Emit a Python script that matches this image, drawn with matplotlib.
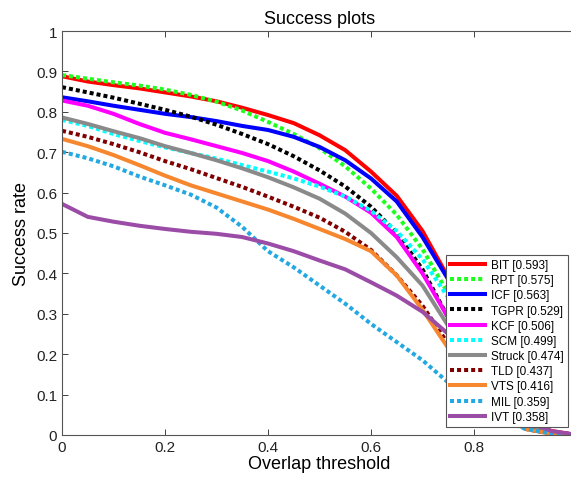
import matplotlib as mpl
import matplotlib.pyplot as plt
import numpy as np

# overlap thresholds 0:0.05:1
thresholds = np.linspace(0, 1, 21)

trackers = ["BIT", "RPT", "ICF", "TGPR", "KCF", "SCM", "Struck", "TLD", "VTS", "MIL", "IVT"]
auc = [0.593, 0.575, 0.563, 0.529, 0.506, 0.499, 0.474, 0.437, 0.416, 0.359, 0.358]

bit = [0.888, 0.875, 0.866, 0.858, 0.848, 0.838, 0.826, 0.81, 0.792, 0.772, 0.742,
       0.705, 0.652, 0.592, 0.505, 0.39, 0.25, 0.12, 0.04, 0.01, 0.0]
rpt = [0.891, 0.882, 0.873, 0.865, 0.855, 0.842, 0.825, 0.803, 0.775, 0.745, 0.71,
       0.665, 0.61, 0.545, 0.46, 0.35, 0.22, 0.1, 0.03, 0.006, 0.0]
icf = [0.836, 0.826, 0.815, 0.805, 0.795, 0.787, 0.777, 0.765, 0.755, 0.738, 0.713,
       0.68, 0.635, 0.578, 0.49, 0.385, 0.24, 0.11, 0.035, 0.008, 0.0]
tgpr = [0.861, 0.848, 0.835, 0.82, 0.805, 0.788, 0.768, 0.745, 0.72, 0.69, 0.655,
        0.615, 0.565, 0.5, 0.41, 0.29, 0.16, 0.07, 0.025, 0.005, 0.0]
kcf = [0.828, 0.815, 0.795, 0.77, 0.748, 0.732, 0.715, 0.698, 0.678, 0.652, 0.622,
       0.59, 0.55, 0.49, 0.4, 0.29, 0.17, 0.075, 0.02, 0.004, 0.0]
scm = [0.78, 0.765, 0.745, 0.728, 0.712, 0.698, 0.684, 0.668, 0.652, 0.635, 0.615,
       0.59, 0.555, 0.505, 0.435, 0.34, 0.21, 0.095, 0.03, 0.006, 0.0]
struck = [0.786, 0.77, 0.752, 0.735, 0.715, 0.698, 0.68, 0.66, 0.638, 0.613, 0.585,
          0.548, 0.5, 0.44, 0.37, 0.27, 0.16, 0.07, 0.02, 0.004, 0.0]
tld = [0.753, 0.738, 0.72, 0.7, 0.678, 0.658, 0.636, 0.614, 0.59, 0.565, 0.538,
       0.503, 0.458, 0.395, 0.32, 0.225, 0.13, 0.055, 0.015, 0.003, 0.0]
vts = [0.733, 0.715, 0.693, 0.668, 0.642, 0.618, 0.598, 0.578, 0.558, 0.535, 0.51,
       0.485, 0.455, 0.395, 0.31, 0.215, 0.12, 0.05, 0.015, 0.003, 0.0]
mil = [0.701, 0.685, 0.665, 0.64, 0.618, 0.595, 0.563, 0.515, 0.455, 0.415, 0.37,
       0.325, 0.275, 0.23, 0.185, 0.13, 0.08, 0.04, 0.015, 0.004, 0.0]
ivt = [0.572, 0.54, 0.528, 0.518, 0.51, 0.503, 0.498, 0.49, 0.474, 0.455, 0.432,
       0.41, 0.378, 0.345, 0.305, 0.25, 0.17, 0.09, 0.035, 0.01, 0.0]

curves = [bit, rpt, icf, tgpr, kcf, scm, struck, tld, vts, mil, ivt]

colors = ["#ff0000", "#1eff1e", "#0000ff", "#000000", "#ff00ff", "#00ffff",
          "#8a8a8a", "#800000", "#f7872f", "#23a8e2", "#9b4ca7"]
dashed = [False, True, False, True, False, True, False, True, False, True, False]

mpl.rcParams.update({
    "font.family": ["Liberation Sans", "DejaVu Sans"],
    "xtick.direction": "in",
    "ytick.direction": "in",
    "xtick.top": True,
    "ytick.right": True,
})

fig = plt.figure(figsize=(5.71, 4.81), dpi=100)
ax = fig.add_axes([62 / 571, 45 / 481, 515 / 571, 404 / 481])

for name, score, y, c, d in zip(trackers, auc, curves, colors, dashed):
    kw = {"dashes": (1.0, 0.75)} if d else {}
    ax.plot(thresholds, y, color=c, linewidth=2.9, label=f"{name} [{score:.3f}]", **kw)

ax.set_xlim(0, 1)
ax.set_ylim(0, 1)
ax.set_xticks([0, 0.2, 0.4, 0.6, 0.8, 1.0])
# the "1" label falls outside the cropped picture
ax.set_xticklabels(["0", "0.2", "0.4", "0.6", "0.8", ""])
ax.set_yticks(np.arange(0, 1.01, 0.1))
ax.set_yticklabels(["0", "0.1", "0.2", "0.3", "0.4", "0.5", "0.6", "0.7", "0.8", "0.9", "1"])
ax.tick_params(labelsize=11, colors="#222222", length=4, width=0.6)
for s in ax.spines.values():
    s.set_color("#555555")
    s.set_linewidth(0.8)

ax.set_title("Success plots", fontsize=13, pad=6)
ax.set_xlabel("Overlap threshold", fontsize=13, labelpad=1)
ax.set_ylabel("Success rate", fontsize=13, labelpad=4)

leg = ax.legend(loc="lower right", bbox_to_anchor=(568 / 571, 53 / 481),
                bbox_transform=fig.transFigure, borderaxespad=0,
                fontsize=8.5, handlelength=3.0, handletextpad=0.5,
                labelspacing=0.27, borderpad=0.35, fancybox=False, framealpha=1)
leg.get_frame().set_edgecolor("#555555")
leg.get_frame().set_linewidth(0.8)

plt.savefig("out.png", dpi=100)
